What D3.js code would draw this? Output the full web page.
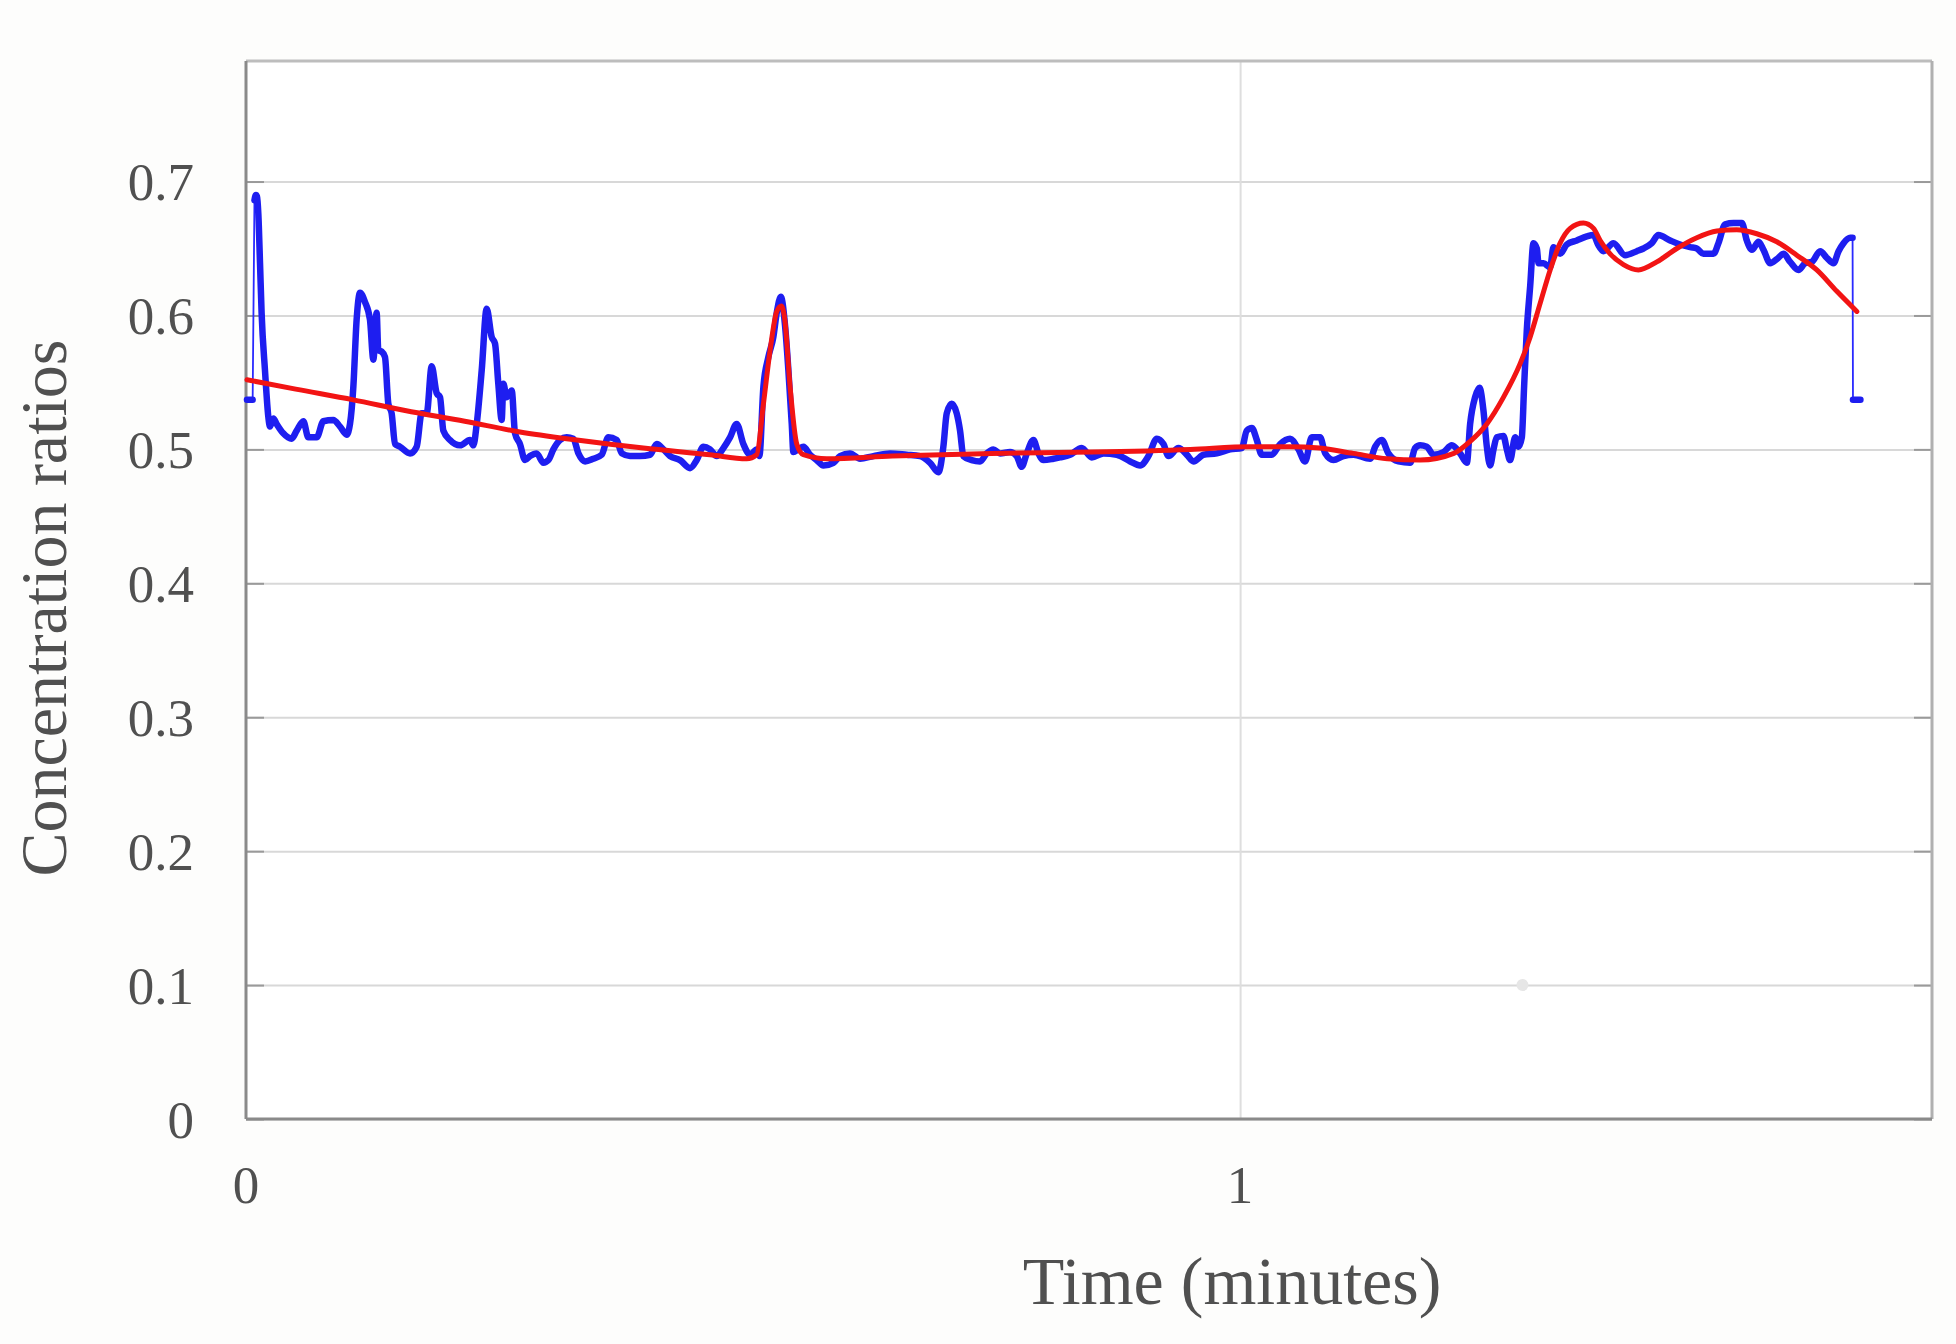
<!DOCTYPE html>
<html>
<head>
<meta charset="utf-8">
<script src="https://cdn.jsdelivr.net/npm/d3@7"></script>
<style>
  body { margin: 0; background: #fdfdfc; }
  text { font-family: "Liberation Serif", "Times New Roman", serif; fill: #505050; }
</style>
</head>
<body>
<svg id="chart" width="1956" height="1344"></svg>
<script>
// time in minutes, measured ratio (blue)
var blueT = [0.001,0.0067,0.0085,0.0100,0.0110,0.0124,0.0141,0.0157,0.0191,0.0225,0.0241,0.0275,0.0308,0.0375,0.0459,0.0510,0.0577,0.0627,0.0711,0.0778,0.0878,0.0946,0.1013,0.1046,0.1080,0.1113,0.1147,0.1197,0.1247,0.1281,0.1314,0.1331,0.1365,0.1398,0.1432,0.1465,0.1499,0.1549,0.1650,0.1717,0.1767,0.1818,0.1868,0.1918,0.1952,0.1985,0.2052,0.2153,0.2253,0.2287,0.2321,0.2371,0.2421,0.2471,0.2505,0.2538,0.2572,0.2589,0.2622,0.2673,0.2706,0.2756,0.2807,0.2857,0.2924,0.2991,0.3042,0.3092,0.3159,0.3226,0.3293,0.3344,0.3411,0.3494,0.3578,0.3645,0.3729,0.3780,0.3863,0.3964,0.4064,0.4132,0.4199,0.4266,0.4366,0.4467,0.4534,0.4601,0.4668,0.4735,0.4802,0.4869,0.4936,0.5003,0.5071,0.5137,0.5164,0.5205,0.5255,0.5305,0.5339,0.5380,0.5423,0.5456,0.5490,0.5506,0.5556,0.5607,0.5674,0.5741,0.5808,0.5909,0.5976,0.6076,0.6177,0.6311,0.6479,0.6646,0.6780,0.6881,0.6965,0.7015,0.7049,0.7099,0.7149,0.7183,0.7216,0.7300,0.7384,0.7451,0.7518,0.7585,0.7686,0.7753,0.7803,0.7854,0.7921,0.7971,0.8021,0.8122,0.8189,0.8290,0.8407,0.8508,0.8626,0.8760,0.8894,0.8994,0.9078,0.9162,0.9229,0.9279,0.9380,0.9464,0.9531,0.9632,0.9766,0.9900,1.0017,1.0067,1.0118,1.0168,1.0218,1.0319,1.0403,1.0503,1.0587,1.0654,1.0721,1.0805,1.0856,1.0939,1.1040,1.1140,1.1308,1.1359,1.1425,1.1492,1.1593,1.1710,1.1761,1.1811,1.1878,1.1945,1.2046,1.2130,1.2213,1.2281,1.2314,1.2364,1.2408,1.2448,1.2482,1.2515,1.2549,1.2582,1.2649,1.2683,1.2716,1.2767,1.2800,1.2834,1.2857,1.2884,1.2918,1.2951,1.2985,1.3002,1.3052,1.3119,1.3152,1.3219,1.3286,1.3387,1.3488,1.3555,1.3600,1.3655,1.3756,1.3873,1.3991,1.4058,1.4141,1.4208,1.4326,1.4426,1.4527,1.4594,1.4661,1.4762,1.4812,1.4879,1.4963,1.5047,1.5097,1.5148,1.5215,1.5265,1.5332,1.5399,1.5466,1.5533,1.5617,1.5684,1.5751,1.5835,1.5902,1.5969,1.6020,1.6070,1.6137,1.6161,1.6165,1.6240];
var blueV = [0.537,0.537,0.686,0.690,0.689,0.676,0.639,0.602,0.559,0.524,0.517,0.523,0.519,0.512,0.508,0.514,0.521,0.509,0.509,0.521,0.522,0.517,0.511,0.519,0.547,0.597,0.617,0.610,0.597,0.567,0.602,0.574,0.573,0.569,0.534,0.527,0.504,0.502,0.497,0.502,0.527,0.527,0.562,0.542,0.539,0.514,0.507,0.503,0.507,0.503,0.519,0.559,0.605,0.584,0.579,0.549,0.522,0.549,0.539,0.544,0.512,0.504,0.492,0.495,0.497,0.490,0.492,0.500,0.507,0.509,0.508,0.497,0.491,0.493,0.496,0.509,0.507,0.497,0.495,0.495,0.496,0.504,0.500,0.495,0.492,0.486,0.492,0.502,0.500,0.495,0.501,0.509,0.519,0.504,0.496,0.500,0.495,0.547,0.569,0.584,0.602,0.614,0.592,0.559,0.519,0.498,0.500,0.502,0.496,0.492,0.488,0.490,0.495,0.497,0.493,0.495,0.497,0.496,0.495,0.490,0.483,0.502,0.527,0.534,0.527,0.514,0.495,0.492,0.491,0.497,0.500,0.497,0.498,0.495,0.487,0.497,0.507,0.497,0.492,0.493,0.494,0.496,0.501,0.494,0.497,0.496,0.491,0.488,0.495,0.508,0.504,0.495,0.501,0.496,0.491,0.496,0.497,0.500,0.501,0.514,0.516,0.507,0.496,0.496,0.504,0.508,0.500,0.491,0.509,0.509,0.497,0.492,0.495,0.496,0.493,0.502,0.507,0.497,0.491,0.490,0.501,0.503,0.502,0.496,0.498,0.503,0.497,0.490,0.519,0.539,0.546,0.529,0.502,0.488,0.500,0.509,0.510,0.500,0.492,0.509,0.502,0.509,0.547,0.589,0.622,0.654,0.650,0.639,0.639,0.636,0.651,0.646,0.653,0.656,0.659,0.660,0.653,0.648,0.654,0.645,0.648,0.650,0.654,0.660,0.656,0.653,0.651,0.650,0.646,0.646,0.654,0.668,0.669,0.669,0.656,0.649,0.655,0.649,0.639,0.642,0.646,0.640,0.634,0.639,0.640,0.648,0.643,0.639,0.648,0.654,0.658,0.658,0.537,0.537];

// fitted curve (red)
var redT = [0.001,0.05,0.108,0.16,0.22,0.2756,0.3327,0.3997,0.4668,0.5037,0.5137,0.5205,0.5272,0.5339,0.5385,0.5420,0.5473,0.5540,0.5607,0.5842,0.65,0.75,0.85,0.95,1.01,1.05,1.08,1.114,1.148,1.181,1.215,1.2314,1.2482,1.265,1.2817,1.2918,1.3018,1.3119,1.3219,1.332,1.3454,1.3555,1.3622,1.3722,1.3856,1.4007,1.4192,1.4393,1.4594,1.4795,1.4996,1.5198,1.5399,1.5600,1.5801,1.6003,1.6204];
var redV = [0.552,0.545,0.537,0.529,0.521,0.513,0.507,0.501,0.496,0.493,0.496,0.534,0.574,0.603,0.607,0.597,0.547,0.504,0.496,0.493,0.495,0.497,0.498,0.500,0.502,0.502,0.501,0.497,0.493,0.492,0.497,0.506,0.519,0.539,0.564,0.584,0.609,0.634,0.654,0.665,0.669,0.665,0.656,0.646,0.638,0.634,0.640,0.650,0.658,0.663,0.664,0.661,0.655,0.645,0.634,0.618,0.603];

var yTicks = [0, 0.1, 0.2, 0.3, 0.4, 0.5, 0.6, 0.7];
var xTicks = [0, 1];
var strayT = [1.284], strayV = [0.1];

var svg = d3.select("#chart"),
    margin = {top: 61, right: 24, bottom: 225, left: 246},
    width = +svg.attr("width") - margin.left - margin.right,
    height = +svg.attr("height") - margin.top - margin.bottom,
    g = svg.append("g").attr("transform", "translate(" + margin.left + "," + margin.top + ")");

var x = d3.scaleLinear().domain([0, 1.696]).range([0, width]);
var y = d3.scaleLinear().domain([0, 0.79]).range([height, 0]);

g.append("rect").attr("width", width).attr("height", height).attr("fill", "#ffffff");

// grid
g.append("g")
    .call(d3.axisLeft(y).tickValues(yTicks).tickSize(-width).tickFormat(""))
    .call(function(a) { a.select(".domain").remove(); })
    .selectAll("line").attr("stroke", "#d8d8d8").attr("stroke-width", 2);

g.append("g")
    .attr("transform", "translate(0," + height + ")")
    .call(d3.axisBottom(x).tickValues([1]).tickSize(-height).tickFormat(""))
    .call(function(a) { a.select(".domain").remove(); })
    .selectAll("line").attr("stroke", "#dedede").attr("stroke-width", 2);

// inner tick marks on both sides
g.append("g")
    .call(d3.axisRight(y).tickValues(yTicks).tickSize(18).tickFormat(""))
    .call(function(a) { a.select(".domain").remove(); })
    .selectAll("line").attr("stroke", "#9a9a9a").attr("stroke-width", 2);
g.append("g")
    .attr("transform", "translate(" + width + ",0)")
    .call(d3.axisLeft(y).tickValues(yTicks).tickSize(18).tickFormat(""))
    .call(function(a) { a.select(".domain").remove(); })
    .selectAll("line").attr("stroke", "#9a9a9a").attr("stroke-width", 2);

// frame
g.append("line").attr("x1", 0).attr("x2", width).attr("y1", 0).attr("y2", 0).attr("stroke", "#bdbdbd").attr("stroke-width", 3);
g.append("line").attr("x1", width).attr("x2", width).attr("y1", 0).attr("y2", height).attr("stroke", "#b0b0b0").attr("stroke-width", 3);
g.append("line").attr("x1", 0).attr("x2", 0).attr("y1", 0).attr("y2", height).attr("stroke", "#8a8a8a").attr("stroke-width", 3);
g.append("line").attr("x1", 0).attr("x2", width).attr("y1", height).attr("y2", height).attr("stroke", "#8a8a8a").attr("stroke-width", 3);

// tick labels
g.selectAll(".ylab").data(yTicks).enter().append("text")
    .attr("class", "ylab")
    .attr("x", -52)
    .attr("y", function(d) { return y(d); })
    .attr("dy", "0.35em")
    .attr("text-anchor", "end")
    .style("font-size", "53px")
    .text(function(d) { return d === 0 ? "0" : d3.format(".1f")(d); });

g.selectAll(".xlab").data(xTicks).enter().append("text")
    .attr("class", "xlab")
    .attr("x", function(d) { return x(d); })
    .attr("y", height + 84)
    .attr("text-anchor", "middle")
    .style("font-size", "53px")
    .text(function(d) { return d; });

// axis titles
svg.append("text")
    .attr("transform", "translate(66,608) rotate(-90)")
    .attr("text-anchor", "middle")
    .style("font-size", "66px")
    .text("Concentration ratios");

svg.append("text")
    .attr("x", 1232)
    .attr("y", 1304)
    .attr("text-anchor", "middle")
    .style("font-size", "68px")
    .text("Time (minutes)");

var blue = blueT.map(function(t, i) { return [t, blueV[i]]; });
var red = redT.map(function(t, i) { return [t, redV[i]]; });

var line = d3.line().x(function(d) { return x(d[0]); }).y(function(d) { return y(d[1]); });
var smooth = d3.line().curve(d3.curveMonotoneX).x(function(d) { return x(d[0]); }).y(function(d) { return y(d[1]); });

// thin connection through every sample
g.append("path").datum(blue).attr("d", line)
    .attr("fill", "none").attr("stroke", "#2a2aff").attr("stroke-width", 1.8);

// thick measured trace, leaving out the first and last jumps
var n = blue.length;
[blue.slice(0, 2), blue.slice(2, n - 2), blue.slice(n - 2)].forEach(function(seg) {
  g.append("path").datum(seg).attr("d", smooth)
      .attr("fill", "none").attr("stroke", "#1e1ef0").attr("stroke-width", 6.5)
      .attr("stroke-linejoin", "round").attr("stroke-linecap", "round");
});

g.append("path").datum(red).attr("d", smooth)
    .attr("fill", "none").attr("stroke", "#f21414").attr("stroke-width", 5)
    .attr("stroke-linejoin", "round").attr("stroke-linecap", "round");

g.selectAll(".stray").data(strayT).enter().append("circle")
    .attr("cx", function(d) { return x(d); })
    .attr("cy", function(d, i) { return y(strayV[i]); })
    .attr("r", 6)
    .attr("fill", "#e6e6e6");
</script>
</body>
</html>
